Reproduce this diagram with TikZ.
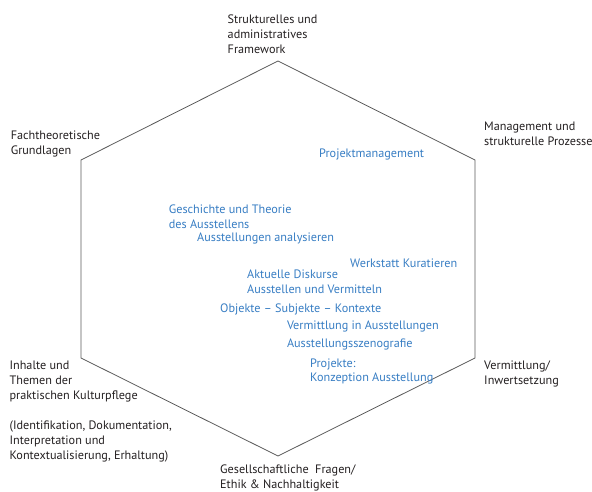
\documentclass[tikz,border=0pt]{standalone}
\usepackage{fontspec}
\setmainfont{PT Sans}
\definecolor{hexline}{RGB}{90,90,90}
\definecolor{topic}{RGB}{55,125,195}
\definecolor{labelc}{RGB}{35,31,32}
\begin{document}
\begin{tikzpicture}[x=1pt,y=-1pt,
  lab/.style={font=\fontsize{12.2}{15}\selectfont, text=labelc, align=left, anchor=north west, inner sep=0pt},
  topicnode/.style={font=\fontsize{12.2}{14.5}\selectfont, text=topic, align=left, anchor=north west, inner sep=0pt}]
\useasboundingbox (0,0) rectangle (592,492);
\coordinate (T) at (278,61);
\coordinate (UR) at (475,160);
\coordinate (LR) at (475,358);
\coordinate (B) at (278,456);
\coordinate (LL) at (81,358);
\coordinate (UL) at (81,160);
\draw[hexline, line width=0.8pt, line join=miter] (T) -- (UR) -- (LR) -- (B) -- (LL) -- (UL) -- cycle;

\node[lab] (struk) at (227.5,15) {Strukturelles und\\administratives\\Framework};
\node[lab] (fach) at (10.6,131) {Fachtheoretische\\Grundlagen};
\node[lab] (mgmt) at (484,121.7) {Management und\\strukturelle Prozesse};
\node[lab] (inh) at (9.4,361) {Inhalte und\\Themen der\\praktischen Kulturpflege\\[15pt](Identifikation, Dokumentation,\\Interpretation und\\Kontextualisierung, Erhaltung)};
\node[lab] (verm) at (484,361) {Vermittlung/\\Inwertsetzung};
\node[lab] (ges) at (220,465) {Gesellschaftliche\ \ Fragen/\\Ethik \& Nachhaltigkeit};

\node[topicnode] (pm) at (319,148.3) {Projektmanagement};
\node[topicnode] (gt) at (168.7,205) {Geschichte und Theorie\\des Ausstellens};
\node[topicnode] (aa) at (197,232.3) {Ausstellungen analysieren};
\node[topicnode] (wk) at (350,259) {Werkstatt Kuratieren};
\node[topicnode, font=\fontsize{12.2}{15}\selectfont] (ad) at (247,270) {Aktuelle Diskurse\\Ausstellen und Vermitteln};
\node[topicnode] (osk) at (220,303.3) {Objekte – Subjekte – Kontexte};
\node[topicnode] (via) at (286.8,321) {Vermittlung in Ausstellungen};
\node[topicnode] (asz) at (286.8,339) {Ausstellungsszenografie};
\node[topicnode] (pk) at (310,358.3) {Projekte:\\Konzeption Ausstellung};
\end{tikzpicture}
\end{document}
